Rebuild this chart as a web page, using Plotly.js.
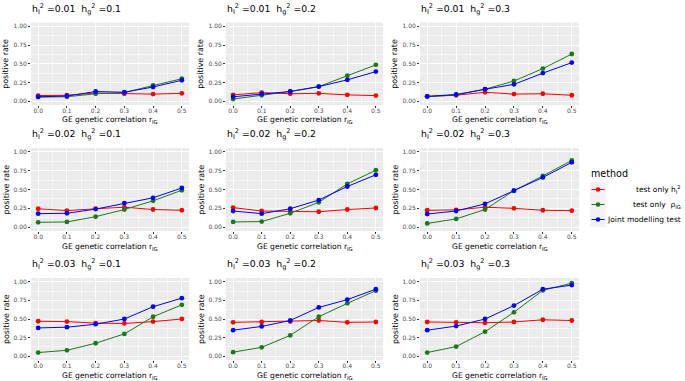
<!DOCTYPE html>
<html>
<head>
<meta charset="utf-8">
<script src="https://cdn.plot.ly/plotly-3.0.1.min.js"></script>
<style>html,body{margin:0;padding:0;background:#fff;}#chart{width:685px;height:381px;}</style>
</head>
<body>
<div id="chart"></div>
<script>
// GE genetic correlation values (x)
const rIG = [0.0, 0.1, 0.2, 0.3, 0.4, 0.5];
// panel facets
const hILevels = ['0.01', '0.02', '0.03'];
const hgLevels = ['0.1', '0.2', '0.3'];
// positive rate, panels ordered row-wise (hI 0.01: hg 0.1,0.2,0.3; hI 0.02: ...; hI 0.03: ...)
const testOnlyH = [
  [0.076, 0.08, 0.11, 0.10, 0.095, 0.105],
  [0.085, 0.115, 0.10, 0.105, 0.085, 0.075],
  [0.065, 0.08, 0.12, 0.095, 0.10, 0.08],
  [0.245, 0.22, 0.245, 0.265, 0.235, 0.225],
  [0.26, 0.215, 0.21, 0.205, 0.235, 0.255],
  [0.225, 0.23, 0.265, 0.25, 0.225, 0.22],
  [0.47, 0.465, 0.445, 0.44, 0.465, 0.50],
  [0.455, 0.46, 0.465, 0.48, 0.455, 0.46],
  [0.46, 0.455, 0.45, 0.46, 0.49, 0.48]
];
const testOnlyRho = [
  [0.055, 0.06, 0.10, 0.115, 0.21, 0.30],
  [0.03, 0.08, 0.13, 0.195, 0.34, 0.485],
  [0.06, 0.085, 0.16, 0.27, 0.435, 0.63],
  [0.065, 0.07, 0.14, 0.235, 0.35, 0.49],
  [0.07, 0.075, 0.185, 0.33, 0.575, 0.755],
  [0.05, 0.11, 0.235, 0.485, 0.68, 0.885],
  [0.05, 0.08, 0.175, 0.30, 0.53, 0.69],
  [0.055, 0.12, 0.28, 0.53, 0.71, 0.88],
  [0.05, 0.13, 0.33, 0.59, 0.885, 0.98]
];
const jointTest = [
  [0.06, 0.07, 0.13, 0.12, 0.19, 0.28],
  [0.06, 0.10, 0.13, 0.195, 0.285, 0.395],
  [0.065, 0.09, 0.16, 0.225, 0.375, 0.515],
  [0.18, 0.185, 0.24, 0.32, 0.39, 0.52],
  [0.215, 0.18, 0.245, 0.36, 0.54, 0.695],
  [0.175, 0.215, 0.31, 0.485, 0.66, 0.86],
  [0.38, 0.39, 0.43, 0.50, 0.665, 0.78],
  [0.35, 0.40, 0.48, 0.655, 0.76, 0.90],
  [0.35, 0.405, 0.50, 0.68, 0.90, 0.955]
];
const methodNames = [
  'test only h<sub>I</sub><sup>2</sup>',
  'test only  ρ<sub>IG</sub>',
  'Joint modelling test'
];
const legendTitle = 'method';
const xTitle = 'GE genetic correlation r<sub>IG</sub>';
const yTitle = 'positive rate';
const yTicks = [0, 0.25, 0.5, 0.75, 1];
const methodColors = ['#FF0000', '#1A7A1A', '#0000FF'];
const methodData = [testOnlyH, testOnlyRho, jointTest];

const W = 685, H = 381;
const colPx = [[31, 189], [226, 383], [420, 579]];
const rowPx = [[22.5, 105], [148, 231], [278, 360]];

const traces = [];
const layout = {
  width: W, height: H,
  margin: {l: 0, r: 0, t: 0, b: 0, pad: 0},
  paper_bgcolor: '#FFFFFF',
  plot_bgcolor: '#EBEBEB',
  font: {family: 'DejaVu Sans, sans-serif', color: '#000'},
  showlegend: false,
  annotations: [],
  shapes: []
};

for (let i = 0; i < 9; i++) {
  const r = Math.floor(i / 3), c = i % 3;
  const sfx = i === 0 ? '' : String(i + 1);
  const xa = 'xaxis' + sfx, ya = 'yaxis' + sfx;
  for (let m = 0; m < 3; m++) {
    traces.push({
      type: 'scatter', mode: 'lines+markers',
      x: rIG, y: methodData[m][i],
      xaxis: 'x' + sfx, yaxis: 'y' + sfx,
      name: methodNames[m], showlegend: false,
      line: {color: methodColors[m], width: 1},
      marker: {color: methodColors[m], size: 4.8},
      hoverinfo: 'x+y'
    });
  }
  layout[xa] = {
    domain: [colPx[c][0] / W, colPx[c][1] / W],
    anchor: 'y' + sfx,
    range: [-0.025, 0.525],
    tickvals: rIG, tickformat: '.1f',
    ticks: 'outside', ticklen: 2, tickcolor: '#333333', tickwidth: 1,
    ticklabelstandoff: -2,
    tickfont: {size: 6, color: '#4D4D4D'},
    showgrid: true, gridcolor: '#FFFFFF', gridwidth: 1,
    minor: {dtick: 0.05, tick0: 0, showgrid: true, gridcolor: '#FFFFFF', gridwidth: 0.5, ticks: ''},
    zeroline: false, showline: false, automargin: false,
    fixedrange: true
  };
  layout[ya] = {
    domain: [1 - rowPx[r][1] / H, 1 - rowPx[r][0] / H],
    anchor: 'x' + sfx,
    range: [-0.05, 1.05],
    tickvals: yTicks, tickformat: '.2f',
    ticks: 'outside', ticklen: 2, tickcolor: '#333333', tickwidth: 1,
    tickfont: {size: 6, color: '#4D4D4D'},
    showgrid: true, gridcolor: '#FFFFFF', gridwidth: 1,
    minor: {dtick: 0.125, tick0: 0, showgrid: true, gridcolor: '#FFFFFF', gridwidth: 0.5, ticks: ''},
    zeroline: false, showline: false, automargin: false,
    fixedrange: true
  };
  // panel title
  layout.annotations.push({
    xref: 'x' + sfx + ' domain', yref: 'y' + sfx + ' domain',
    x: 0, y: 1, xanchor: 'left', yanchor: 'bottom', xshift: -1, yshift: 5,
    showarrow: false,
    text: 'h<sub>I</sub><sup>2</sup> =' + hILevels[r] + '  h<sub>g</sub><sup>2</sup> =' + hgLevels[c],
    font: {size: 9.3, color: '#000'}
  });
  // x axis title
  layout.annotations.push({
    xref: 'x' + sfx + ' domain', yref: 'y' + sfx + ' domain',
    x: 0.5, y: 0, xanchor: 'center', yanchor: 'top', yshift: -8.5,
    showarrow: false, text: xTitle, font: {size: 7.6, color: '#000'}
  });
  // y axis title
  layout.annotations.push({
    xref: 'x' + sfx + ' domain', yref: 'y' + sfx + ' domain',
    x: 0, y: 0.5, xanchor: 'center', yanchor: 'middle', xshift: -25, textangle: -90,
    showarrow: false, text: yTitle, font: {size: 7.9, color: '#000'}
  });
}

// manual legend (ggplot style)
const px = v => v / W, py = v => 1 - v / H;
layout.annotations.push({
  xref: 'paper', yref: 'paper', x: px(589), y: py(173), xanchor: 'left', yanchor: 'middle',
  showarrow: false, text: legendTitle, font: {size: 9.6, color: '#000'}
});
layout.shapes.push({
  type: 'rect', xref: 'paper', yref: 'paper', layer: 'below',
  x0: px(590), x1: px(606), y0: py(182), y1: py(227),
  fillcolor: '#F2F2F2', line: {width: 0}
});
const rowY = [189.5, 204.5, 219.5];
for (let m = 0; m < 3; m++) {
  layout.shapes.push({
    type: 'line', xref: 'paper', yref: 'paper',
    x0: px(591.5), x1: px(604.5), y0: py(rowY[m]), y1: py(rowY[m]),
    line: {color: methodColors[m], width: 1}
  });
  layout.shapes.push({
    type: 'circle', xref: 'paper', yref: 'paper',
    x0: px(595.7), x1: px(600.3), y0: py(rowY[m] - 2.3), y1: py(rowY[m] + 2.3),
    fillcolor: methodColors[m], line: {width: 0}
  });
  layout.annotations.push({
    xref: 'paper', yref: 'paper', x: px(683), y: py(rowY[m]), xanchor: 'right', yanchor: 'middle',
    showarrow: false, text: methodNames[m], font: {size: 7.5, color: '#000'}
  });
}

Plotly.newPlot('chart', traces, layout, {staticPlot: true, displayModeBar: false});
</script>
</body>
</html>
